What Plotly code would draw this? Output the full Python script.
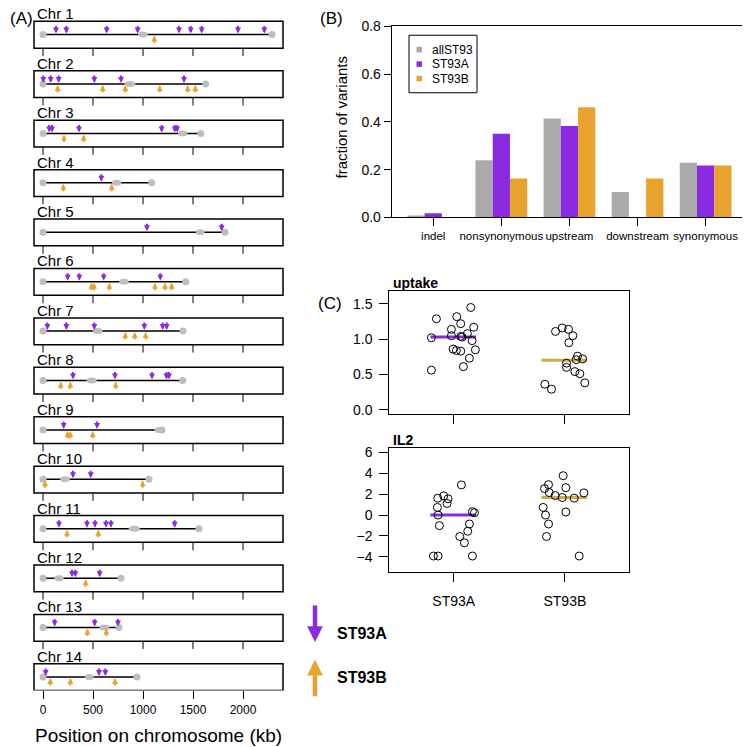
import plotly.graph_objects as go

# the page body keeps an 8 px margin, so the figure is a little smaller than the window
W, H = 742, 739
OFF = 8
LIFT = 1.5
SY = (H + LIFT) / 747      # vertical squeeze so the top texts are not clipped
FONT = "Liberation Sans, Arial, sans-serif"
PURPLE = "#8A2BE2"
ORANGE = "#E8A32C"
GRAY = "#AAAAAA"
DOT = "#BEBEBE"
MED_B = "#D2A94C"


def fx(p):
    return (p - OFF) / W


def fy(p):
    return 1 - (p * SY - LIFT) / H


# ---- (A) chromosome map, positions in kb ----
chr_names = [f"Chr {i}" for i in range(1, 15)]
chr_length = [2290, 1627, 1577, 1087, 1820, 1427, 1400, 1397, 1190, 1060, 1560, 780, 760, 940]
centromere = [1000, 870, 1397, 737, 1573, 810, 547, 487, 1160, 220, 913, 160, 613, 463]
cen_width = [95, 110, 95, 95, 85, 95, 100, 100, 90, 95, 115, 95, 100, 90]
st93a_sites = [
    [130, 233, 637, 947, 1360, 1477, 1587, 1950, 2213],
    [3, 77, 157, 513, 780, 1410],
    [62, 90, 360, 1187, 1318, 1342],
    [583],
    [1040, 1787],
    [247, 363, 607, 1173],
    [43, 233, 513, 1013, 1197, 1237],
    [300, 720, 1090, 1235, 1260],
    [207, 540],
    [300, 477],
    [160, 440, 520, 630, 680, 1317],
    [290, 323, 567],
    [117, 517, 750],
    [27, 560, 623],
]
st93b_sites = [
    [1113],
    [147, 597, 823, 1167, 1447, 1523],
    [210, 407],
    [203, 687],
    [],
    [485, 510, 663, 1120, 1220, 1287],
    [823, 917, 1027],
    [177, 273, 727],
    [245, 272, 497],
    [20, 997],
    [240, 553],
    [427],
    [443, 633],
    [73, 273, 720],
]
kb_ticks = [0, 500, 1000, 1500, 2000]

# ---- (B) variant classes ----
var_classes = ["indel", "nonsynonymous", "upstream", "downstream", "synonymous"]
frac_all = [0.008, 0.239, 0.414, 0.106, 0.229]
frac_a = [0.017, 0.350, 0.383, 0.0, 0.217]
frac_b = [0.0, 0.163, 0.461, 0.163, 0.217]

# ---- (C) phenotypes (x offset = strip jitter) ----
groups = ["ST93A", "ST93B"]
uptake_a = [1.29, 1.02, 0.56, 1.45, 1.32, 1.22, 1.14, 1.17, 1.05, 1.04,
            1.03, 1.08, 0.98, 0.86, 0.84, 0.83, 0.85, 0.73, 0.61]
uptake_a_jit = [-0.156, -0.201, -0.201, 0.153, 0.027, 0.063, -0.021, 0.18, -0.021, 0.063,
                0.075, 0.123, 0.165, -0.006, 0.024, 0.063, 0.195, 0.141, 0.087]
uptake_b = [1.11, 1.16, 1.14, 1.05, 0.95, 0.76, 0.71, 0.72, 0.66, 0.60,
            0.54, 0.51, 0.38, 0.36, 0.29]
uptake_b_jit = [-0.084, -0.024, 0.033, 0.072, 0.036, 0.114, 0.102, 0.159, 0.015, 0.015,
                0.09, 0.135, 0.18, -0.18, -0.12]
il2_a = [2.89, 1.62, 1.84, 1.56, 1.11, 0.73, 0.0, -1.02, 0.32, 0.22,
         -0.86, -1.56, -2.06, -2.67, -3.94, -3.94, -3.94]
il2_a_jit = [0.069, -0.144, -0.09, -0.051, -0.06, -0.147, -0.141, -0.129, 0.168, 0.186,
             0.141, 0.126, 0.054, 0.096, -0.183, -0.141, 0.168]
il2_b = [3.78, 2.92, 2.54, 2.63, 2.16, 1.87, 1.68, 1.62, 2.13, 0.73,
         0.0, -0.86, -2.06, 0.29, -3.94]
il2_b_jit = [-0.015, -0.147, -0.183, 0.009, -0.141, -0.087, -0.024, 0.084, 0.171, -0.195,
             -0.174, -0.147, -0.165, 0.009, 0.129]
uptake_median = [1.03, 0.70]
il2_median = [0.0, 1.68]

fig = go.Figure()
shapes = []
annotations = []


def label(x, y, text, size, xanchor="center", angle=0):
    annotations.append(dict(x=fx(x), y=fy(y), xref="paper", yref="paper",
                            text=text, showarrow=False, textangle=angle,
                            xanchor=xanchor, yanchor="middle",
                            font=dict(size=size, color="black")))


# ---------------- panel A ----------------
rows = list(range(1, len(chr_names) + 1))
row_px = 49.85
box_top, box_bot = -13.3 / row_px, 13.7 / row_px
# y range: row 1 line sits at 28.3 px, the panel top at LIFT / SY px
y_top = 1 - (28.3 - LIFT / SY) / row_px
y_bot = 14 + (690 - 676.4) / row_px

line_x, line_y = [], []
for r, L in zip(rows, chr_length):
    line_x += [0, L, None]
    line_y += [r, r, None]
fig.add_trace(go.Scatter(x=line_x, y=line_y, mode="lines",
                         line=dict(color="black", width=1.5),
                         xaxis="x", yaxis="y", hoverinfo="skip"))
end_x, end_y = [], []
for r, L in zip(rows, chr_length):
    end_x += [0, L]
    end_y += [r, r]
fig.add_trace(go.Scatter(x=end_x, y=end_y, mode="markers",
                         marker=dict(color=DOT, size=7, line=dict(width=0)),
                         xaxis="x", yaxis="y", hoverinfo="skip"))

tick_x, tick_y = [], []
for r in rows[:-1]:
    for t in kb_ticks:
        tick_x += [t, t, None]
        tick_y += [r + box_bot, r + box_bot + 8 / row_px, None]
fig.add_trace(go.Scatter(x=tick_x, y=tick_y, mode="lines",
                         line=dict(color="black", width=1),
                         xaxis="x", yaxis="y", hoverinfo="skip"))

for r, c, w in zip(rows, centromere, cen_width):
    shapes.append(dict(type="circle", xref="x", yref="y",
                       x0=c - w / 2, x1=c + w / 2,
                       y0=r - 3 / row_px, y1=r + 3 / row_px,
                       fillcolor=DOT, line=dict(width=0)))
    shapes.append(dict(type="rect", xref="x domain", yref="y",
                       x0=0, x1=1, y0=r + box_top, y1=r + box_bot,
                       line=dict(color="black", width=1.5)))

for r, name in zip(rows, chr_names):
    annotations.append(dict(x=fx(36), xref="paper", y=r + box_top, yref="y",
                            text=name, showarrow=False, xanchor="left",
                            yanchor="bottom", yshift=-2, borderpad=0,
                            font=dict(size=15, color="black")))

for r, sites in zip(rows, st93a_sites):
    for s in sites:
        annotations.append(dict(x=s, y=r, xref="x", yref="y", text="",
                                showarrow=True, ax=0, ay=-10, standoff=1,
                                arrowhead=2, arrowsize=0.6, arrowwidth=2,
                                arrowcolor=PURPLE))
for r, sites in zip(rows, st93b_sites):
    for s in sites:
        annotations.append(dict(x=s, y=r, xref="x", yref="y", text="",
                                showarrow=True, ax=0, ay=10, standoff=1,
                                arrowhead=2, arrowsize=0.6, arrowwidth=2,
                                arrowcolor=ORANGE))

label(158, 735, "Position on chromosome (kb)", 19)
label(OFF, 12, "(A)", 17, xanchor="left")

# ---------------- panel B ----------------
for name, vals, col in [("allST93", frac_all, GRAY), ("ST93A", frac_a, PURPLE),
                        ("ST93B", frac_b, ORANGE)]:
    fig.add_trace(go.Bar(x=var_classes, y=vals, name=name, marker_color=col,
                         marker_line_width=0, xaxis="x2", yaxis="y2"))

shapes.append(dict(type="rect", xref="paper", yref="paper",
                   x0=fx(409), x1=fx(477), y0=fy(87), y1=fy(29),
                   line=dict(color="black", width=1), fillcolor="white"))
for i, (name, col) in enumerate([("allST93", GRAY), ("ST93A", PURPLE), ("ST93B", ORANGE)]):
    yc = 43.5 + 14.6 * i
    shapes.append(dict(type="rect", xref="paper", yref="paper",
                       x0=fx(416.5), x1=fx(422), y0=fy(yc + 2.8), y1=fy(yc - 2.8),
                       fillcolor=col, line=dict(width=0)))
    label(430, yc, name, 12, xanchor="left")

label(342, 112, "fraction of variants", 15, angle=-90)
label(331, 12, "(B)", 17)

# ---------------- panel C ----------------
def strip(vals, jit, g, xa, ya):
    fig.add_trace(go.Scatter(x=[g + j for j in jit], y=vals, mode="markers",
                             marker=dict(symbol="circle-open", size=8, color="black",
                                         line=dict(width=1)),
                             xaxis=xa, yaxis=ya, hoverinfo="y"))


def median_line(m, g, col, xa, ya):
    fig.add_trace(go.Scatter(x=[g - 0.21, g + 0.2], y=[m, m], mode="lines",
                             line=dict(color=col, width=3),
                             xaxis=xa, yaxis=ya, hoverinfo="skip"))


median_line(uptake_median[0], 1, PURPLE, "x3", "y3")
median_line(uptake_median[1], 2, MED_B, "x3", "y3")
strip(uptake_a, uptake_a_jit, 1, "x3", "y3")
strip(uptake_b, uptake_b_jit, 2, "x3", "y3")
median_line(il2_median[0], 1, PURPLE, "x4", "y4")
median_line(il2_median[1], 2, MED_B, "x4", "y4")
strip(il2_a, il2_a_jit, 1, "x4", "y4")
strip(il2_b, il2_b_jit, 2, "x4", "y4")

label(391, 279, "<b>uptake</b>", 14, xanchor="left")
label(391, 437, "<b>IL2</b>", 14, xanchor="left")
label(330, 300, "(C)", 17)

# ---------------- arrow key ----------------
annotations.append(dict(x=fx(315), y=fy(641), xref="paper", yref="paper", text="",
                        showarrow=True, ax=0, ay=-38, arrowhead=2, arrowsize=0.7,
                        arrowwidth=4.5, arrowcolor=PURPLE))
annotations.append(dict(x=fx(315), y=fy(659), xref="paper", yref="paper", text="",
                        showarrow=True, ax=0, ay=38, arrowhead=2, arrowsize=0.7,
                        arrowwidth=4.5, arrowcolor=ORANGE))
label(335, 633, "<b>ST93A</b>", 16, xanchor="left")
label(335, 677, "<b>ST93B</b>", 16, xanchor="left")

box_axis = dict(showline=True, linecolor="black", linewidth=1, mirror=True,
                showgrid=False, zeroline=False, ticks="outside", tickcolor="black",
                automargin=False, tickfont=dict(size=14, color="black"))

fig.update_layout(
    template="none",
    width=W, height=H,
    margin=dict(l=0, r=0, t=0, b=0, pad=0, autoexpand=False),
    paper_bgcolor="white", plot_bgcolor="white",
    font=dict(family=FONT, color="black"),
    showlegend=False,
    barmode="group", bargap=0.24, bargroupgap=0,
    shapes=shapes, annotations=annotations,
    xaxis=dict(domain=[fx(34), fx(283)], range=[-90, 2400], anchor="y",
               showline=False, showgrid=False, zeroline=False, automargin=False,
               tickvals=kb_ticks, ticks="outside", ticklen=8, tickcolor="black",
               tickfont=dict(size=12, color="black")),
    yaxis=dict(domain=[fy(690), 1], range=[y_bot, y_top], anchor="x",
               visible=False, automargin=False),
    xaxis2=dict(box_axis, domain=[fx(391.7), fx(747.5)], range=[-0.61, 4.615],
                anchor="y2", ticklen=8, tickangle=0,
                tickfont=dict(size=11.5, color="black")),
    yaxis2=dict(box_axis, domain=[fy(212.7), fy(20)], range=[0, 0.8], anchor="x2",
                tickvals=[0, 0.2, 0.4, 0.6, 0.8], tickformat=".1f", ticklen=7),
    xaxis3=dict(box_axis, domain=[fx(389.3), fx(629.3)], range=[0.42, 2.58],
                anchor="y3", tickvals=[1, 2], showticklabels=False, ticklen=9),
    yaxis3=dict(box_axis, domain=[fy(411.3), fy(287.3)], range=[-0.065, 1.68],
                anchor="x3", tickvals=[0, 0.5, 1.0, 1.5], tickformat=".1f",
                ticklen=9, ticklabelstandoff=4),
    xaxis4=dict(box_axis, domain=[fx(389.3), fx(629.3)], range=[0.42, 2.58],
                anchor="y4", tickvals=[1, 2], ticktext=groups, ticklen=9,
                ticklabelstandoff=8),
    yaxis4=dict(box_axis, domain=[fy(570), fy(445.7)], range=[-5.43, 6.41],
                anchor="x4", tickvals=[-4, -2, 0, 2, 4, 6], ticklen=9,
                ticklabelstandoff=4),
)

fig.write_html("out.html")
